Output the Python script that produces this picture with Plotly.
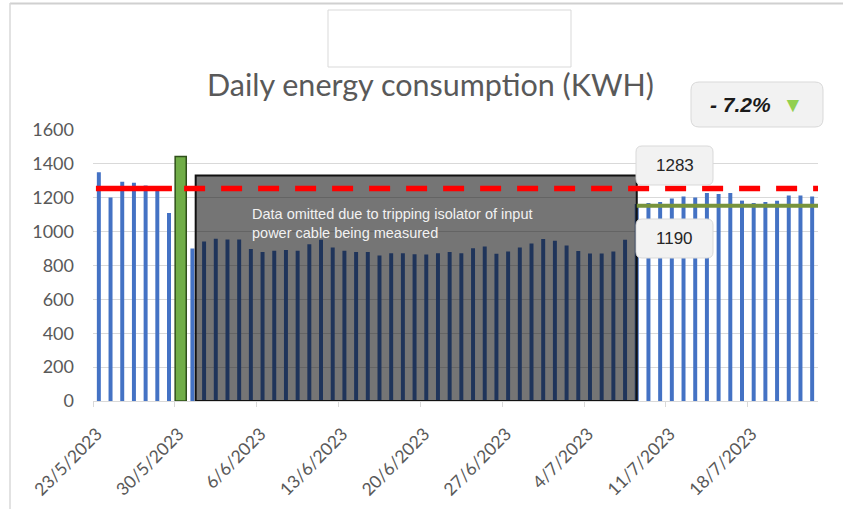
import datetime as dt
import plotly.graph_objects as go

# ---------------- data ----------------
start_date = dt.datetime(2023, 5, 23)
daily_kwh = [1350, 1202, 1295, 1288, 1272, 1245, 1110, 1444, 900, 942,
             958, 954, 954, 898, 879, 887, 892, 887, 926, 952,
             906, 887, 879, 879, 859, 873, 873, 867, 865, 873,
             879, 873, 902, 912, 869, 883, 906, 930, 956, 946,
             918, 885, 871, 871, 883, 952, 1163, 1169, 1175, 1195,
             1208, 1202, 1228, 1222, 1228, 1183, 1169, 1175, 1183, 1214,
             1214, 1208]
highlight_day = 7                      # 30/5/2023 highlighted bar
tick_dates = [start_date + dt.timedelta(days=7 * i) for i in range(9)]
tick_text = [f"{d.day}/{d.month}/{d.year}" for d in tick_dates]

avg_before_level = 1254      # drawn position of the "1283" reference line
avg_after_level = 1153       # drawn position of the "1190" line
avg_before_label = "1283"
avg_after_label = "1190"
change_label = "- 7.2%"
omitted_start = dt.datetime(2023, 5, 31, 18, 45)
omitted_end = dt.datetime(2023, 7, 8, 12, 0)
omitted_top = 1331
omitted_text = "Data omitted due to tripping isolator of input<br>power cable being measured"
title_text = "Daily energy consumption (KWH)"

# ---------------- geometry helpers (layout only) ----------------
W, H = 843, 509
L, R, T, B = 93, 818, 130, 401
def px(x):
    return (x - L) / (R - L)
def py(y):
    return (B - y) / (B - T)

bar_x = [start_date + dt.timedelta(days=k, hours=12) for k in range(len(daily_kwh))]
DAY_MS = 86400000

fig = go.Figure()
fig.add_trace(go.Bar(
    x=bar_x, y=daily_kwh, width=[0.34 * DAY_MS] * len(daily_kwh),
    marker=dict(color="#4472C4", line=dict(width=0)), hoverinfo="skip"))
fig.add_trace(go.Bar(
    x=[bar_x[highlight_day]], y=[daily_kwh[highlight_day]], width=[0.95 * DAY_MS],
    marker=dict(color="#70AD47", line=dict(color="#2F4F1A", width=1.5)), hoverinfo="skip"))

# omitted-data overlay
fig.add_trace(go.Scatter(
    x=[omitted_start, omitted_end, omitted_end, omitted_start, omitted_start],
    y=[0, 0, omitted_top, omitted_top, 0], mode="lines", fill="toself",
    fillcolor="rgba(0,0,0,0.54)", line=dict(color="#111111", width=2), hoverinfo="skip"))

# reference lines
fig.add_trace(go.Scatter(
    x=[start_date + dt.timedelta(hours=6), start_date + dt.timedelta(days=6, hours=18)],
    y=[avg_before_level] * 2, mode="lines", line=dict(color="#FF0000", width=5.5), hoverinfo="skip"))
fig.add_trace(go.Scatter(
    x=[start_date + dt.timedelta(days=7, hours=19), start_date + dt.timedelta(days=62, hours=12)],
    y=[avg_before_level] * 2, mode="lines",
    line=dict(color="#FF0000", width=5.5, dash="21px,16px"), hoverinfo="skip"))
fig.add_trace(go.Scatter(
    x=[start_date + dt.timedelta(days=46, hours=12), start_date + dt.timedelta(days=62, hours=12)],
    y=[avg_after_level] * 2, mode="lines", line=dict(color="#77933C", width=4), hoverinfo="skip"))

def rrect(x0, y0, x1, y1, r=6):
    pts = (f"M {px(x0 + r)},{py(y0)} L {px(x1 - r)},{py(y0)} Q {px(x1)},{py(y0)} {px(x1)},{py(y0 + r)} "
           f"L {px(x1)},{py(y1 - r)} Q {px(x1)},{py(y1)} {px(x1 - r)},{py(y1)} "
           f"L {px(x0 + r)},{py(y1)} Q {px(x0)},{py(y1)} {px(x0)},{py(y1 - r)} "
           f"L {px(x0)},{py(y0 + r)} Q {px(x0)},{py(y0)} {px(x0 + r)},{py(y0)} Z")
    return dict(type="path", path=pts, xref="paper", yref="paper",
                fillcolor="#F2F2F2", line=dict(color="#D9D9D9", width=1), layer="above")

shapes = [
    # chart frame edges
    dict(type="line", xref="paper", yref="paper", x0=px(10), x1=px(843), y0=py(3.5), y1=py(3.5),
         line=dict(color="#D0D0D0", width=2)),
    dict(type="line", xref="paper", yref="paper", x0=px(10), x1=px(10), y0=py(3), y1=py(509),
         line=dict(color="#D9D9D9", width=1.5)),
    # blank box above title
    dict(type="rect", xref="paper", yref="paper", x0=px(328), x1=px(571), y0=py(10), y1=py(67),
         fillcolor="white", line=dict(color="#D9D9D9", width=1)),
    rrect(636, 146, 713, 185),
    rrect(636, 219, 713, 258),
    rrect(691, 82, 823, 127, r=8),
]

annotations = [
    dict(text=title_text, x=px(430), y=py(84), xref="paper", yref="paper", showarrow=False,
         xanchor="center", yanchor="middle", font=dict(family="Lato", size=30.5, color="#595959")),
    dict(text=omitted_text, x=px(250), y=py(223), xref="paper", yref="paper", showarrow=False,
         xanchor="left", yanchor="middle", align="left",
         font=dict(family="Liberation Sans", size=14.5, color="#F2F2F2")),
    dict(text=avg_before_label, x=px(674.5), y=py(165.5), xref="paper", yref="paper", showarrow=False,
         xanchor="center", yanchor="middle", font=dict(family="Liberation Sans", size=17, color="#262626")),
    dict(text=avg_after_label, x=px(674.5), y=py(238.5), xref="paper", yref="paper", showarrow=False,
         xanchor="center", yanchor="middle", font=dict(family="Liberation Sans", size=17, color="#262626")),
    dict(text=f"<b><i>{change_label}</i></b>  <span style='color:#92D050'>▼</span>",
         x=px(756), y=py(104), xref="paper", yref="paper", showarrow=False,
         xanchor="center", yanchor="middle", font=dict(family="Liberation Sans", size=21, color="#1A1A1A")),
]

fig.update_layout(
    width=W, height=H, margin=dict(l=L, r=W - R, t=T, b=H - B, autoexpand=False),
    paper_bgcolor="white", plot_bgcolor="white", showlegend=False,
    barmode="overlay", shapes=shapes, annotations=annotations,
    xaxis=dict(type="date", range=[start_date, start_date + dt.timedelta(days=62)],
               tickvals=tick_dates, ticktext=tick_text, tickangle=-45, automargin=False,
               showgrid=False, showline=True, linecolor="#D9D9D9", linewidth=1,
               ticks="outside", ticklen=5, tickcolor="#D9D9D9", ticklabelshift=4,
               ticklabelstandoff=10,
               tickfont=dict(family="Lato", size=17.5, color="#595959")),
    yaxis=dict(range=[0, 1600], tickvals=list(range(0, 1601, 200)), automargin=False,
               showgrid=True, gridcolor="#D9D9D9", gridwidth=1, zeroline=False,
               showline=False, ticks="", ticklabelstandoff=18,
               tickfont=dict(family="Lato", size=18, color="#595959")),
)

fig.write_html("out.html", config={"displayModeBar": False},
               post_script="document.body.style.margin='0px';")
